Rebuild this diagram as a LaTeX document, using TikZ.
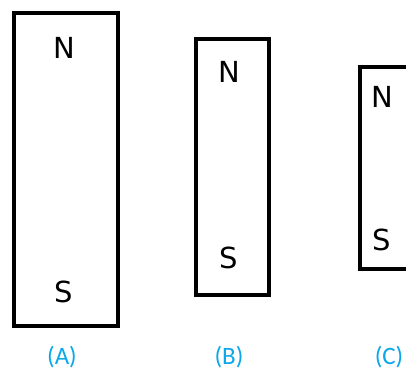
\documentclass[tikz,border=0pt]{standalone}
\usepackage{fontspec}
\setmainfont{Carlito}
\newfontfamily\polefont{DejaVu Sans}
\definecolor{labelblue}{RGB}{10,168,235}

\begin{document}
\begin{tikzpicture}[x=1pt, y=-1pt]
    \useasboundingbox (0,0) rectangle (406,371);
    \clip (0,0) rectangle (406,371);
    \tikzset{magnet/.style={rectangle, draw, line width=4pt, fill=white},
             pole/.style={font=\polefont\fontsize{29}{29}\selectfont},
             tag/.style={text=labelblue, font=\fontsize{25}{25}\selectfont}}

    % magnets
    \node[magnet, minimum width=104pt, minimum height=313pt] (A) at (66,169.5) {};
    \node[magnet, minimum width=73pt, minimum height=255pt] (B) at (232,167) {};
    \node[magnet, minimum width=60pt, minimum height=201pt] (C) at (390,168) {};

    % poles
    \node[pole] (AN) at (64.5,48) {N};
    \node[pole] (AS) at (64,292) {S};
    \node[pole] (BN) at (229,72) {N};
    \node[pole] (BS) at (229,258) {S};
    \node[pole] (CN) at (382,97) {N};
    \node[pole] (CS) at (382,240) {S};

    % labels
    \node[tag] (LA) at (62,357) {(A)};
    \node[tag] (LB) at (229,357) {(B)};
    \node[tag] (LC) at (389,357) {(C)};
\end{tikzpicture}
\end{document}
